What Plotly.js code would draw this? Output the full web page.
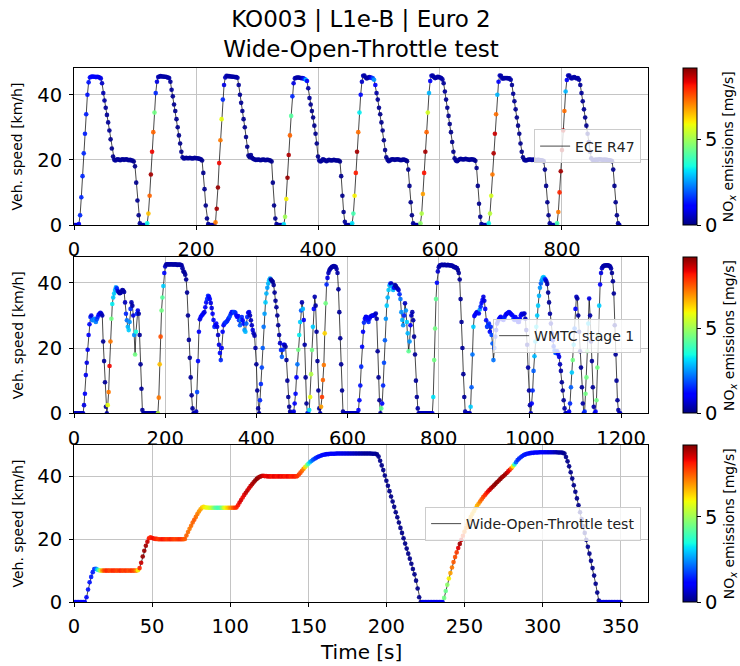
<!DOCTYPE html>
<html><head><meta charset="utf-8">
<script src="https://cdn.plot.ly/plotly-3.0.1.min.js"></script>
<style>html,body{margin:0;padding:0;background:#fff}#chart{width:740px;height:666px}</style>
</head><body><div id="chart"></div>
<script>
// ---------- ECE R47 (8 cycles, 2 s sampling) : vehicle speed [km/h] ----------
const ece_v1 = [0,0,0,0, 0.3,3,8.5,15,22,28,34,40,43.8,45.3, 45.5,45.6,45.5,45.5,45.4,45.5,45.4,45.3,45.0, 43.5,40.5,38.2,36,33.8,31.5,29,26.3,23.5,21, 20,19.8,20.1,20.2,20,19.9,20.1,20.2,20,20.1,20.2,20,19.9,20,19.8,19.8, 19.5,18,13,7.5,3,0.5,0];
const ece_v2 = [0,0,0,0, 0.5,3.5,9,15.5,22.5,28.5,34.5,40.5,44,45.4, 45.6,45.7,45.6,45.6,45.5,45.5,45.4,45.3,45.1, 44,41.5,39.5,37,35,32.5,30,27.5,25,22.5, 20.8,20.4,20.5,20.6,20.5,20.5,20.6,20.5,20.4,20.5,20.6,20.5,20.5,20.4,20.3,20.2, 19.8,16,11,6,2,0.3,0];
const ece_v3 = [0,0,0,0, 0.8,5,11.5,19,26,32.5,38.5,43,45.3,45.8, 45.7,45.7,45.6,45.6,45.5,45.5,45.4,45.4,45.2, 43,40,37.5,35,32.5,30,27,24,21.3,20.8, 21.5,20.6,20.3,20.1,20,20,20.1,20,19.9,20,20.1,20,19.9,20,20,19.9, 19.8,19.5,13,6,2,0.3,0];
const ece_v4 = [0,0,0,0, 0.2,2.5,8,14.5,21.5,27.5,33.5,39.5,43.5,45, 45.2,45.3,45.3,45.2,45.1,45.1,45,44.8,44.6, 44.2,42,39,37,35,33,30.5,28,25,21, 19.8,19.5,19.7,20.2,20,19.8,19.6,19.8,20,19.9,19.8,19.9,20,19.9,19.8,19.8, 19.8,19.5,15,9,4,1,0];
const ece_v5 = [0,0,0,0, 0.5,3.5,9,16,22.5,28.5,34.5,40,44,45.8, 45.9,45.3,45,45.2,45.4,45.3,45.2,45,44.6, 43,40.5,38.5,36,34,31.5,29,26,23,20.8, 20,19.6,19.8,20.1,20.2,20.1,20,20.1,20.2,20.1,20,19.9,20,20.1,20,19.9, 19.6,17,12,7,3,0.5,0];
const ece_v6 = [0,0,0,0, 0.5,3.5,9.5,16,22.5,28.5,34.5,40.5,44.2,45.8, 45.9,45.4,45.1,45.2,45.5,45.4,45.3,45.1,44.7, 43.5,41,38.5,36,33.5,31,28.5,25.5,22.5,20.5, 19.8,19.6,19.9,20.2,20.3,20.2,20.1,20.2,20.3,20.2,20.1,20,20.1,20.2,20.1,20, 19.7,17.5,12,6.5,2.5,0.3,0];
const ece_v7 = [0,0,0,0, 0.5,3.5,9,15.5,22,28,34,40,44,45.9, 45.8,45,45,45.1,45.1,45.1,45,45,44.6, 43,40.3,38,35.5,33,30.5,28,25,22.5,20.8, 20,19.8,19.9,20,20.1,20.1,20,20,20.1,20,19.9,20,20,19.9,19.9,19.8, 19.6,17,12,7,3,0.5,0];
const ece_v8 = [0,0,0,0, 0.5,4,10,16.5,23,29,35,41,44.5,45.9, 45.9,45.2,45,45.3,45.4,45.2,45,45.1,44.6, 43,40.5,38,35.5,33,30.5,28,25.5,22.5,20.5, 20,19.8,20,20.1,20,20.1,20.2,20.1,20,20,20.1,20,20,19.9,19.9,19.8, 19.6,17,12,7,3,0.5,0];
// ---------- ECE R47 : NOx emissions [mg/s] ----------
const ece_n1 = [0.5,0.5,0.5,0.5, 1.0,1.5,1.5,1.5,1.5,1.4,1.4,1.3,1.3,1.2, 1.2,1.1,1.1,1.0,1.0,1.0,0.9,0.9,0.8, 0.6,0.4,0.3,0.2,0.2,0.2,0.2,0.1,0.1,0.1, 0.2,0.2,0.2,0.2,0.2,0.2,0.2,0.2,0.2,0.2,0.2,0.2,0.2,0.2,0.2,0.2, 0.1,0.1,0.1,0.1,0.1,0.2,0.3];
const ece_n2 = [0.3,0.3,0.3,0.3, 3.4,6.5,7.4,8.9,8.3,7.4,4.5,1.5,0.8,0.5, 0.3,0.3,0.3,0.3,0.3,0.3,0.3,0.3,0.3, 0.2,0.2,0.15,0.15,0.1,0.1,0.1,0.1,0.1,0.1, 0.2,0.2,0.2,0.2,0.2,0.2,0.2,0.2,0.2,0.2,0.2,0.2,0.2,0.2,0.2,0.2, 0.1,0.1,0.1,0.1,0.1,0.2,0.3];
const ece_n3 = [0.3,0.3,0.3,0.3, 7.2,8.9,9.0,8.3,7.2,5.8,1.5,0.8,0.5,0.4, 0.3,0.3,0.3,0.3,0.3,0.3,0.3,0.3,0.3, 0.2,0.2,0.15,0.15,0.1,0.1,0.1,0.1,0.1,0.1, 0.2,0.2,0.2,0.2,0.2,0.2,0.2,0.2,0.2,0.2,0.2,0.2,0.2,0.2,0.2,0.2, 0.1,0.1,0.1,0.1,0.1,0.2,0.3];
const ece_n4 = [0.3,0.3,0.3,0.3, 3.2,5.0,6.0,9.0,8.8,7.4,4.2,1.5,0.8,0.5, 0.3,0.3,0.3,0.3,0.3,0.4,0.8,1.5,2.8, 1.0,0.3,0.2,0.15,0.1,0.1,0.1,0.1,0.1,0.1, 0.2,0.2,0.2,0.2,0.2,0.2,0.2,0.2,0.2,0.2,0.2,0.2,0.2,0.2,0.2,0.2, 0.1,0.1,0.1,0.1,0.1,0.2,0.3];
const ece_n5 = [0.3,0.3,0.3,0.3, 3.2,4.0,6.0,8.1,8.9,7.3,3.3,1.2,0.6,0.4, 0.3,0.3,0.3,0.3,0.3,0.5,1.0,1.8,2.5, 1.0,0.3,0.2,0.15,0.1,0.1,0.1,0.1,0.1,0.1, 0.2,0.2,0.2,0.2,0.2,0.2,0.2,0.2,0.2,0.2,0.2,0.2,0.2,0.2,0.2,0.2, 0.1,0.1,0.1,0.1,0.1,0.2,0.3];
const ece_n6 = [0.3,0.3,0.3,0.3, 4.8,5.2,6.8,8.2,8.9,7.4,5.6,2.8,1.0,0.5, 0.3,0.3,0.3,0.3,0.3,0.3,0.3,0.3,0.3, 0.2,0.2,0.15,0.15,0.1,0.1,0.1,0.1,0.1,0.1, 0.2,0.2,0.2,0.2,0.2,0.2,0.2,0.2,0.2,0.2,0.2,0.2,0.2,0.2,0.2,0.2, 0.1,0.1,0.1,0.1,0.1,0.2,0.3];
const ece_n7 = [0.3,0.3,0.3,0.3, 3.4,5.3,5.6,7.2,8.8,8.6,7.3,2.8,1.0,0.5, 0.3,0.3,0.3,0.3,0.3,0.3,0.3,0.3,0.3, 0.2,0.2,0.15,0.15,0.1,0.1,0.1,0.1,0.1,0.1, 0.2,0.2,0.2,0.2,0.2,0.2,0.2,0.2,0.2,0.2,0.2,0.2,0.2,0.2,0.2,0.2, 0.1,0.1,0.1,0.1,0.1,0.2,0.3];
const ece_n8 = [0.3,0.3,0.3,0.3, 4.0,7.2,8.0,8.9,8.9,8.7,7.3,2.8,1.0,0.5, 0.3,0.3,0.3,0.3,0.3,0.3,0.3,0.3,0.3, 0.2,0.2,0.15,0.15,0.1,0.1,0.1,0.1,0.1,0.1, 0.2,0.2,0.2,0.2,0.2,0.2,0.2,0.2,0.2,0.2,0.2,0.2,0.2,0.2,0.2,0.2, 0.1,0.1,0.1,0.1,0.1,0.2,0.3];

// ---------- WMTC stage 1 (2 x 600 s, 2 s sampling) : speed [km/h] ----------
const wmtc_v_part1 = [
0,0,0,0,0,0,0,0,0,0,
0,2.5,6,11.7,15.5,19.5,24,27.3,29.5,30,
28.6,28.5,29,28.5,28,28.8,29.5,30.2,30.5,30.8,
30.5,30,22,16,9.5,2,0,2.5,6.5,14.5,
22,29,33.5,35.5,36.7,37.8,38.6,38.3,37.5,37.2,
36.8,36.9,37.3,37.8,37.6,37.2,34,30.5,28.5,26.5,
25.5,28,32,34,33,30,24,18,25,30.5,
31.5,30.5,24,15,7.5,1,0,0,0,0,
0,0,0,0,0,0,0,0,0,0,
0,0,0,4.8,15,23.5,31.5,35.5,39,43,
45,45.6,45.7,45.7,45.6,45.6,45.7,45.7,45.6,45.6,
45.6,45.7,45.6,45.5,45.5,45.6,45.5,45.5,45.4,44.5,
43.5,43.2,42.5,41,37,30,22.5,17,11,5.5,
1.5,0,0,0,0.5,6.5,16,25,28.8,29.5,
30,30.3,30.7,31,32.5,34,35,36,35.8,35,
33.8,32.3,30.5,28.6,26.5,27,27.5,26.5,24,21,
18.5,16.3,20,25,27,27.5,27.8,28,28.3,28.8,
29.3,29.8,30.5,31,31,31,31,30.8,30,29.5,
29.8,28.5,27,28.5,29.5,28.5,27.5,25.5,25,27.5,
29.5,30.8,31,30,28.5,27,25.5,24.5,23.8,20,
15,7,1.5,0,4,9,14,20,26.5,30.5,
34,36.7,38.5,39.8,40.8,41.3,41,40.6,40.3,39.3,
37,34.5,32.5,30,27,24,21.5,19.4,17.3,19.5,
21,21,20.4,16.3,10,5,2,0.5,0,0,
0,0.5,3,6,11,15,19.5,24,28,31.5,
34,32,28.6,21,11,3,0,0,1,5,
12,19.4,26.5,32,35.7,33,25,16,7,1.5,
0,2,5,10.2,14.8,24.5,33.7,39.5,41.5,43,
43.8,44.3,44.6,44.9,45,45.1,45,44.9,44.2,43,
38,31,23,15,7,0.5,0,0,0,0];
const wmtc_v_part2 = [
0,0,0,0,0,0,0,0,0,0,
0,0,1,4,8.5,14.3,20.4,25,27.8,29,
29.6,29.5,28.5,28,29,29.6,29.8,30,30,30,
30.3,30.6,29,19,11,4,0,1.5,3,8.5,
15.5,22.4,29,33,35.5,37.8,39.2,39.8,39.8,38.8,
37.8,38.5,39.3,39,38.5,38.2,37.8,36.5,35,31,
28.6,27,30,33.7,31.5,28,24.5,19,22,27,
30,31,28.5,23.5,18,10,5,1.5,0,0,
0,0,0,0,0,0,0,0,0,0,
0,0,0,0,5,16.3,26,35,40,43.5,
44.8,45.3,45.4,45.5,45.5,45.4,45.5,45.5,45.4,45.4,
45.5,45.4,45.4,45.3,45.3,45.2,45,44.8,44.8,44.6,
44.5,43.9,43,41,35,28,20,12,5,0.5,
0,0,0,0,0,2,8,18,26.5,29.8,
30.3,30.7,31,30.8,30.6,31.8,32.7,33.8,34.7,35.7,
34.5,32,28.5,26.5,27,27.5,25,26.5,24,21.4,
16.3,20,23.5,25.5,27.5,28.3,28.8,29.3,29.6,29.2,
28.8,28.6,29.3,30,30.4,30.6,30.8,31,30.8,30.5,
30.2,30,29,28.6,29.5,29,28.5,28,28,29,
30,30.5,30.3,30.5,30.6,29,25.5,21,14,7,
2.5,0,3,7,13,17.5,22,26.5,30,33,
36,38.5,39.8,40.8,41.5,41.8,41.3,41,40.5,39.6,
37,34,30.5,27.5,24.5,22.4,20.5,19.2,18.5,18.6,
19,18.2,17.3,15,13,9.5,7,4,1.5,0,
0,0,0,0.5,3,8,12.5,16.3,21,26,
32,35.7,35.2,30,25,19,14,8,3,0,
0.5,6,11,19,27.5,35.2,30,22,16,8,
2,0,0.5,4,14,24,33,39.5,43,44.5,
45,45.2,45.3,45.3,45.4,45.4,45.3,45.2,45,44.4,
43,40.5,36.7,27,18,10,4,1,0,0];
// ---------- WMTC stage 1 : NOx [mg/s] ----------
const wmtc_n_part1 = [
0.5,0.5,0.5,0.5,0.5,0.5,0.5,0.5,0.5,0.5,
0.5,0.8,1.0,0.9,0.8,0.9,1.0,1.2,1.5,0.8,
2.0,2.4,2.2,2.5,2.3,1.8,1.5,1.2,1.0,0.8,
0.6,0.4,0.2,0.2,0.2,0.2,0.3,5.8,7.2,8.3,
7.2,4.5,3.3,3.0,3.0,2.8,2.6,1.5,0.8,0.4,
0.3,0.3,0.3,0.3,0.3,0.3,0.5,1.5,2.2,2.8,
3.0,2.5,1.5,0.4,0.3,0.8,2.5,4.5,3.5,1.5,
0.8,0.3,0.2,0.2,0.2,0.2,0.3,0.3,0.3,0.3,
0.3,0.3,0.3,0.3,0.3,0.3,0.3,0.3,0.3,0.3,
0.3,0.3,5.3,7.2,6.5,7.6,4.5,4.2,3.0,1.2,
0.6,0.4,0.3,0.3,0.3,0.3,0.3,0.3,0.3,0.3,
0.3,0.3,0.3,0.3,0.3,0.3,0.3,0.3,0.3,0.3,
0.2,0.2,0.2,0.2,0.2,0.2,0.2,0.2,0.2,0.2,
0.2,0.3,0.3,0.3,0.5,1.8,1.2,1.0,0.8,1.0,
1.2,1.0,1.0,0.8,1.0,1.2,1.5,1.5,1.2,1.0,
0.8,0.8,1.0,1.2,1.5,1.2,1.0,0.8,0.6,0.8,
1.2,1.5,1.0,1.0,1.2,1.3,1.5,1.6,1.5,1.4,
1.5,1.8,1.5,1.3,1.2,1.5,1.8,1.5,1.2,1.0,
1.0,1.5,2.0,2.4,1.5,1.0,1.2,2.5,2.8,2.0,
1.5,1.0,0.8,0.5,0.5,0.6,0.8,0.5,0.4,0.3,
0.2,0.2,0.2,0.3,1.5,1.5,1.8,2.0,2.2,2.6,
3.0,2.8,2.6,2.8,3.0,2.6,0.3,0.2,0.2,0.2,
0.2,0.2,0.2,0.2,0.2,0.3,0.6,1.5,2.0,1.5,
1.0,0.6,0.3,0.2,0.2,0.2,0.2,0.3,0.5,0.5,
0.5,0.8,1.0,1.2,1.0,2.2,4.5,3.3,3.0,2.0,
0.4,2.8,1.0,0.3,0.2,0.2,0.5,1.5,3.2,5.8,
5.2,4.5,3.0,1.2,0.4,0.3,0.2,0.2,0.2,0.2,
0.5,6.8,7.8,7.4,7.2,6.3,4.5,1.5,0.8,0.5,
0.4,0.3,0.3,0.3,0.3,0.3,0.3,0.3,0.3,0.3,
0.2,0.2,0.2,0.2,0.2,0.2,0.5,0.5,0.5,0.5];
const wmtc_n_part2 = [
0.5,0.5,0.5,0.5,0.5,0.5,0.5,0.5,0.5,0.5,
0.5,0.5,1.0,1.2,1.3,1.5,1.2,1.0,1.5,1.0,
0.8,1.0,1.2,1.5,1.2,1.0,0.8,0.8,0.8,1.0,
0.8,0.5,0.3,0.2,0.2,0.2,0.3,4.3,1.2,1.5,
1.8,2.0,2.5,3.0,2.8,3.0,2.8,1.5,0.5,2.6,
2.8,1.0,0.4,0.3,0.3,0.4,0.6,1.5,2.2,2.5,
2.8,2.5,1.5,0.5,2.5,3.0,2.8,4.3,2.5,1.0,
0.5,0.4,0.3,0.2,0.2,0.2,0.2,0.3,0.5,0.5,
0.5,0.5,0.5,0.5,0.5,0.5,0.5,0.5,0.5,0.5,
0.5,0.5,0.5,0.8,3.2,4.5,4.5,4.3,1.2,0.6,
0.4,0.3,0.3,0.3,0.3,0.3,0.3,0.3,0.3,0.3,
0.3,0.3,0.3,0.3,0.3,0.3,0.3,0.3,0.3,0.3,
0.3,0.2,0.2,0.2,0.2,0.2,0.2,0.2,0.2,0.3,
0.5,0.5,0.5,0.5,0.5,3.0,2.0,2.2,3.0,1.0,
1.0,1.2,0.8,1.0,1.2,2.5,1.5,1.2,1.0,0.8,
0.8,1.0,1.2,1.5,1.8,1.5,1.2,1.5,1.8,2.0,
2.2,1.8,1.5,1.2,1.0,0.8,1.0,1.2,1.0,1.2,
1.0,1.2,1.5,1.2,1.0,0.8,1.0,1.2,1.0,0.8,
1.0,1.2,1.5,1.3,1.0,1.2,1.4,1.2,1.0,1.2,
1.0,0.8,0.8,0.7,0.6,0.5,0.4,0.3,0.3,0.3,
0.3,0.5,1.0,1.5,2.0,2.8,3.0,3.2,3.0,3.0,
2.8,2.5,2.0,2.5,2.8,3.0,2.2,1.0,0.5,0.3,
0.2,0.2,0.3,0.5,0.8,1.2,1.5,1.8,2.0,1.8,
1.5,1.2,0.8,0.5,0.3,0.2,0.2,0.2,0.3,0.5,
0.5,0.5,0.5,1.0,1.5,2.0,3.0,4.5,3.0,2.0,
1.0,0.5,0.3,0.2,0.2,0.2,0.2,0.2,0.3,0.5,
1.5,4.5,4.5,4.5,3.0,0.8,0.3,0.2,0.2,0.2,
0.3,0.5,1.0,4.5,4.5,4.5,3.0,1.0,0.8,0.5,
0.4,0.3,0.3,0.3,0.3,0.3,0.3,0.3,0.3,0.3,
0.2,0.2,0.2,0.2,0.2,0.2,0.2,0.3,0.5,0.5];

// ---------- Wide-Open-Throttle test (1 s sampling, 0..350 s) ----------
const wot_speed = [
/*0-7*/ 0,0,0,0,0,0,0,0,
/*8-16*/ 1.5,4,6.3,8,9.5,10.5,10.6,10.3,10.1,
/*17-41*/ 10,10,10,10,10,10,10,10,10,10,10,10,10,10,10,10,10,10,10,10,10,10,10,10,10.1,
/*42-50*/ 10.8,12.5,14.5,16.3,17.9,19.2,20.3,20.6,20.4,
/*51-71*/ 20.2,20.1,20.1,20,20,20,20,20,20,20,20,20,20,20,20,20,20,20,20,20,20.1,
/*72-83*/ 21.2,22.3,23.3,24.3,25.3,26.2,27.1,28,28.8,29.5,30.1,30.3,
/*84-104*/ 30.1,30.1,30,30,30,30,30,30,30,30,30,30,30,30,30,30,30,30,30,30,30.1,
/*105-121*/ 30.8,31.7,32.5,33.3,34.1,34.8,35.5,36.2,36.9,37.5,38.1,38.7,39.2,39.6,39.9,40.1,40.2,
/*122-143*/ 40.1,40.1,40,40,40,40,40,40,40,40,40,40,40,40,40,40,40,40,40,40,40,40.1,
/*144-164*/ 40.6,41.2,41.8,42.4,43,43.5,44,44.5,44.9,45.3,45.6,45.9,46.2,46.4,46.6,46.8,46.9,47,47.1,47.1,47.2,
/*165-193*/ 47.2,47.2,47.2,47.3,47.3,47.3,47.3,47.3,47.3,47.3,47.3,47.3,47.3,47.3,47.3,47.3,47.3,47.3,47.3,47.3,47.3,47.3,47.3,47.3,47.3,47.3,47.2,47.2,47.2,
/*194-222*/ 47,46.3,45,43.5,42,40.3,38.6,37,35.3,33.6,32,30.3,28.6,27,25.3,23.6,22,20.3,18.6,17,15.4,13.8,12.2,10.5,8.8,6.8,4.3,1.5,0,
/*223-236*/ 0,0,0,0,0,0,0,0,0,0,0,0,0,0,
/*237-294*/ 1.3,3.5,5.5,7.5,9.2,11,12.7,14.3,15.8,17.2, 18.5,19.8,21.1,22.4,23.6,24.8,26,27.1,28,28.9, 29.8,30.6,31.3,32,32.7,33.4,34,34.6,35.2,35.7, 36.2,36.7,37.2,37.7,38.2,38.7,39.2,39.7,40.1,40.6, 41.1,41.6,42.1,42.6,43.2,43.8,44.5,45.2,45.7,46.1, 46.5,46.8,47,47.2,47.3,47.4,47.5,47.5,
/*295-313*/ 47.6,47.6,47.6,47.7,47.7,47.7,47.7,47.7,47.7,47.7,47.7,47.7,47.7,47.7,47.7,47.6,47.6,47.6,47.5,
/*314-336*/ 47.3,46.2,44.8,43.2,41.3,39.3,37.2,35.1,33,30.8,28.6,26.4,24.2,22,19.8,17.6,15.4,13.1,10.8,8.4,5.8,3,0.5,
/*337-350*/ 0,0,0,0,0,0,0,0,0,0,0,0,0,0];
const wot_nox = [
/*0-7*/ 1,1,1,1,1,1,1,1.1,
/*8-16*/ 1.2,1.3,1.3,1.4,1.4,1.5,2.0,3.2,4.3,
/*17-41*/ 5.5,6.8,7.5, 7.8,8.0,7.9,7.7,7.8,8.0,7.9,7.8,7.7,7.9, 8.0,7.8,7.7,7.9,7.8,7.6,7.8,7.9,7.7,7.5, 7.0, 6.0,
/*42-50*/ 8.0,8.6,9.0,9.0,8.9,8.6,8.2,8.0,8.2,
/*51-71*/ 8.3,8.1,8.0,7.8,7.9,8.1,8.2,8.0,7.9,7.8, 8.0,8.1,7.9,7.8,7.7,7.8,7.9,8.0,7.8,7.6, 7.5,
/*72-83*/ 7.4,7.3,7.2,7.3,7.4,7.5,7.3,7.2,7.0,6.8,6.5,6.2,
/*84-104*/ 6.0,5.8,5.8,5.6,5.4,5.0, 4.5,4.2,4.0,4.0,4.3,4.8, 5.5,5.9,6.2,6.5,6.8, 7.2,7.5,7.8,8.0,
/*105-121*/ 8.2,8.4,8.5,8.3,8.4,8.6,8.7,8.5,8.6,8.8, 8.9,9.0,9.1,9.0,8.9,8.8,8.6,
/*122-143*/ 8.4,8.3,8.4,8.5,8.3,8.2,8.4,8.3,8.2,8.3, 8.4,8.2,8.3,8.1,8.2,8.3,8.2,8.0,8.1,8.2, 8.0,7.9,
/*144-164*/ 7.8,7.6,7.4,7.0,6.2,5.0,3.8,3.0,2.4,2.0, 1.7,1.5,1.4,1.3,1.3,1.2,1.2,1.2,1.1,1.1, 1.1,
/*165-193*/ 1.0,1.0,1.0,1.0,0.9,0.9,0.9,0.8,0.8,0.8, 0.7,0.7,0.6,0.6,0.5,0.5,0.4,0.4,0.3,0.3, 0.3,0.2,0.2,0.2,0.2,0.2,0.2,0.2,0.2,
/*194-222*/ 0.1,0.1,0.1,0.1,0.1,0.1,0.1,0.1,0.1,0.1, 0.1,0.1,0.1,0.1,0.1,0.1,0.1,0.1,0.1,0.1, 0.1,0.1,0.1,0.1,0.1,0.1,0.1,0.1,0.1,
/*223-236*/ 0.9,0.9,0.9,0.9,0.9,0.9,0.9,0.9,0.9,0.9,0.9,0.9,0.9,0.9,
/*237-294*/ 4.5,4.4,4.8,6.0,6.8,7.2,7.5,7.6,7.8,8.4,8.9,8.6,7.8,7.2, 7.0,6.9,6.8,6.7,6.6,6.5,6.5,6.6,6.8,7.2,7.5,7.7, 7.9,8.1,8.3,8.5,8.7,8.9,9.0,9.1,9.1,9.0, 9.1,9.0,8.9,9.0,8.8,8.5,8.3,7.4,6.0,3.6, 2.0,1.6,1.5,1.5,1.4,1.4,1.3,1.3,1.3,1.2,1.2,1.2,
/*295-313*/ 1.1,1.1,1.1,1.0,1.0,1.0,1.0,0.9,0.9,0.8, 0.8,0.7,0.6,0.5,0.4,0.3,0.3,0.2,0.2,
/*314-336*/ 0.1,0.1,0.1,0.1,0.1,0.1,0.1,0.1,0.1,0.1, 0.1,0.1,0.1,0.1,0.1,0.1,0.1,0.1,0.1,0.1, 0.1,0.1,0.1,
/*337-350*/ 0.8,0.8,0.8,0.8,0.8,0.8,0.8,0.8,0.8,0.8,0.8,0.8,0.8,0.8];

const legendNames = ['ECE R47', 'WMTC stage 1', 'Wide-Open-Throttle test'];
const speedTicks = [0, 20, 40];
const noxTicks = [0, 5];

// ---------- assemble ----------
const ece_speed = [].concat(ece_v1, ece_v2, ece_v3, ece_v4, ece_v5, ece_v6, ece_v7, ece_v8);
const ece_nox = [].concat(ece_n1, ece_n2, ece_n3, ece_n4, ece_n5, ece_n6, ece_n7, ece_n8);
const wmtc_speed = [].concat(wmtc_v_part1, wmtc_v_part2);
const wmtc_nox = [].concat(wmtc_n_part1, wmtc_n_part2);

const FONT = 'DejaVu Sans, Liberation Sans, sans-serif';
const jet = [[0,'#000080'],[0.11,'#0000ff'],[0.125,'#0000ff'],[0.34,'#00dbff'],[0.35,'#00e5f7'],[0.375,'#14ffe2'],[0.64,'#efff08'],[0.66,'#ffec00'],[0.89,'#ff1300'],[0.91,'#e80000'],[1,'#800000']];
const CMAX = 9.2;

const doms = [[0.706, 1], [0.3534, 0.646], [0, 0.294]];

function lineTrace(y, dx, n) {
  const s = n === 1 ? '' : String(n);
  return {type:'scatter', mode:'lines', y:y, x0:0, dx:dx, xaxis:'x'+s, yaxis:'y'+s,
    name:legendNames[n-1], legend:'legend'+s, showlegend:true,
    line:{color:'rgba(0,0,0,0.8)', width:0.9}, hoverinfo:'skip'};
}
function markerTrace(y, c, dx, n) {
  const s = n === 1 ? '' : String(n);
  const d = doms[n-1];
  return {type:'scatter', mode:'markers', y:y, x0:0, dx:dx, xaxis:'x'+s, yaxis:'y'+s,
    showlegend:false, hoverinfo:'skip',
    marker:{size:4.6, color:c, colorscale:jet, cmin:0, cmax:CMAX, opacity:0.92, line:{width:0},
      showscale:true,
      colorbar:{x:1.061, xanchor:'left', y:d[1], yanchor:'top', len:(d[1]-d[0]), lenmode:'fraction',
        thickness:14, thicknessmode:'pixels', xpad:0, ypad:0, outlinewidth:1, outlinecolor:'#000',
        tickvals:noxTicks, ticks:'outside', ticklen:4, tickwidth:1, tickcolor:'#000',
        tickfont:{family:FONT, size:19.5, color:'#000'}}}};
}

const data = [
  lineTrace(ece_speed, 2, 1), markerTrace(ece_speed, ece_nox, 2, 1),
  lineTrace(wmtc_speed, 2, 2), markerTrace(wmtc_speed, wmtc_nox, 2, 2),
  lineTrace(wot_speed, 1, 3), markerTrace(wot_speed, wot_nox, 1, 3)
];

const axBase = {showline:true, mirror:true, linecolor:'#000', linewidth:1, ticks:'outside', ticklen:4,
  tickwidth:1, tickcolor:'#000', showgrid:true, gridcolor:'#c4c4c4', gridwidth:1, zeroline:false,
  tickfont:{family:FONT, size:19.5, color:'#000'}, fixedrange:true, ticklabelstandoff:3};

function legendBox(yc) {
  return {x:0.988, xanchor:'right', y:yc, yanchor:'middle', bgcolor:'rgba(255,255,255,0.8)',
    bordercolor:'#cccccc', borderwidth:1, font:{family:FONT, size:14, color:'#222'}};
}

const cbLabel = 'NO<sub><i>x</i></sub> emissions [mg/s]';
const ann = [];
doms.forEach(function(d){
  const yc = (d[0]+d[1])/2;
  ann.push({text:'Veh. speed [km/h]', xref:'paper', yref:'paper', x:-0.0976, y:yc, textangle:-90,
    showarrow:false, xanchor:'center', yanchor:'middle', font:{family:FONT, size:14, color:'#000'}});
  ann.push({text:cbLabel, xref:'paper', yref:'paper', x:1.1425, y:yc, textangle:-90,
    showarrow:false, xanchor:'center', yanchor:'middle', font:{family:FONT, size:14, color:'#000'}});
});
ann.push({text:'Time [s]', xref:'paper', yref:'paper', x:0.5, y:-0.0936, showarrow:false,
  xanchor:'center', yanchor:'middle', font:{family:FONT, size:20, color:'#000'}});

const layout = {
  width:740, height:666, margin:{l:74, r:92, t:68, b:64},
  paper_bgcolor:'#fff', plot_bgcolor:'#fff',
  font:{family:FONT, color:'#000'},
  title:{text:'KO003 | L1e-B | Euro 2<br>Wide-Open-Throttle test', font:{family:FONT, size:23, color:'#000'},
    xref:'container', yref:'container', x:0.4878, xanchor:'center', y:0.960, yanchor:'top'},
  xaxis: Object.assign({}, axBase, {domain:[0,1], anchor:'y', range:[0,941], tickvals:[0,200,400,600,800]}),
  yaxis: Object.assign({}, axBase, {domain:doms[0], anchor:'x', range:[0,48.2], tickvals:speedTicks}),
  xaxis2: Object.assign({}, axBase, {domain:[0,1], anchor:'y2', range:[0,1259], tickvals:[0,200,400,600,800,1000,1200]}),
  yaxis2: Object.assign({}, axBase, {domain:doms[1], anchor:'x2', range:[0,47.9], tickvals:speedTicks}),
  xaxis3: Object.assign({}, axBase, {domain:[0,1], anchor:'y3', range:[0,367.5], tickvals:[0,50,100,150,200,250,300,350]}),
  yaxis3: Object.assign({}, axBase, {domain:doms[2], anchor:'x3', range:[0,50], tickvals:speedTicks}),
  legend: legendBox(0.853),
  legend2: legendBox(0.498),
  legend3: legendBox(0.146),
  annotations: ann
};

Plotly.newPlot('chart', data, layout, {displayModeBar:false, staticPlot:true});
</script>
</body></html>
